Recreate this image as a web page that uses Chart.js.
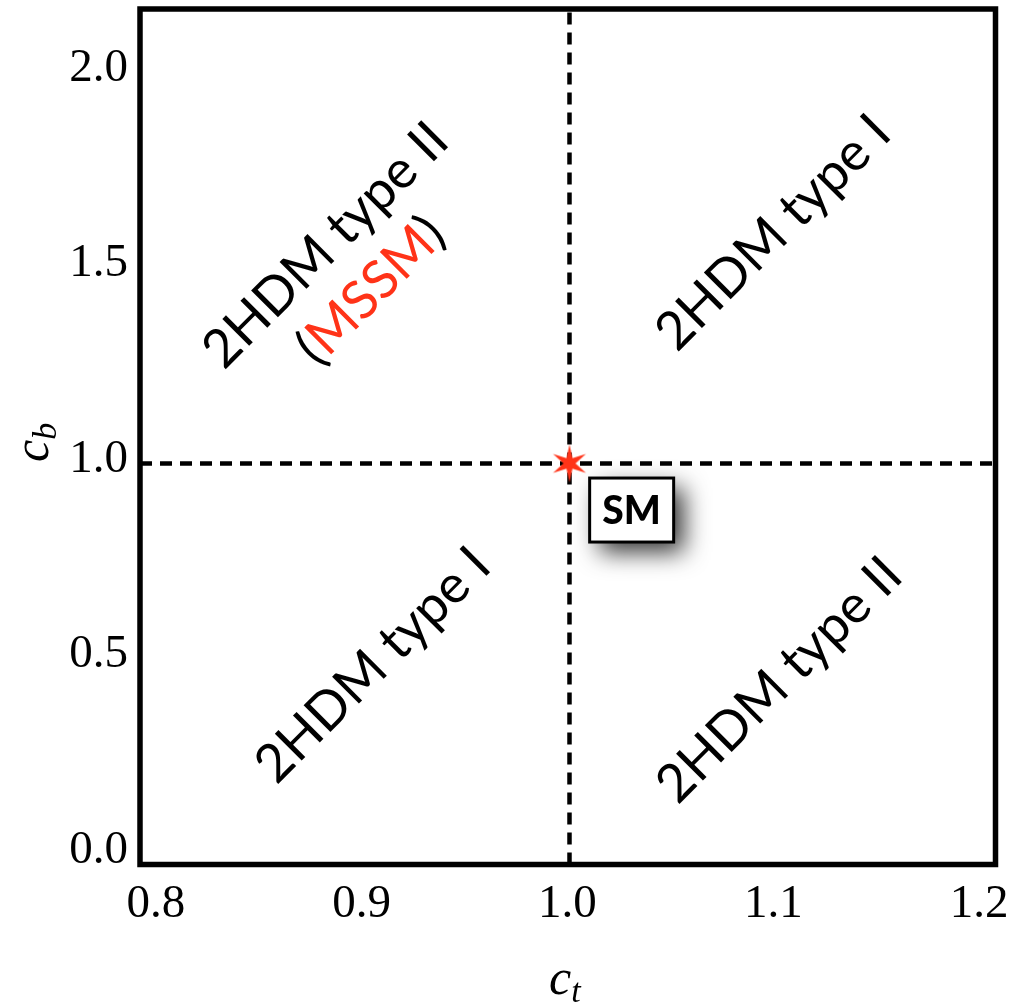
<!DOCTYPE html>
<html>
<head>
<meta charset="utf-8">
<script src="https://cdn.jsdelivr.net/npm/chart.js@4/dist/chart.umd.min.js"></script>
<style>
  body { margin: 0; background: #fff; }
  #wrap { width: 1012px; height: 1006px; }
</style>
</head>
<body>
<div id="wrap"><canvas id="couplingChart" width="1012" height="1006"></canvas></div>
<script>
// axis ranges and ticks
const xRange = [0.7913, 1.207];
const yRange = [-0.0256, 2.162];
const xTicks = [0.8, 0.9, 1.0, 1.1, 1.2];
const yTicks = [0.0, 0.5, 1.0, 1.5, 2.0];

// SM point (c_t, c_b)
const smPoint = [1.0, 1.0];
// dashed reference lines
const ctLine = 1.0;
const cbLine = 1.0;

// region labels (data coords of the text centre)
const regionText = [['2HDM type I'], ['2HDM type I'], ['2HDM type II'], ['2HDM type II', '(MSSM)']];
const regionAt = [[1.099, 1.59], [0.9045, 0.484], [1.102, 0.446], [0.8925, 1.50]];
const smBoxAt = [1.0302, 0.8808];

const RED = '#ff3318';
const SANS = 'Lato, "Open Sans", sans-serif';
const SERIF = '"Liberation Serif", "DejaVu Serif", serif';

// red six-pointed star used as point style
function makeStar() {
  const c = document.createElement('canvas');
  c.width = 42; c.height = 42;
  const g = c.getContext('2d');
  g.fillStyle = RED;
  g.beginPath();
  for (let i = 0; i < 12; i++) {
    const r = i % 2 === 0 ? 19 : 6;
    const a = -Math.PI / 2 + i * Math.PI / 6;
    const px = 21 + r * Math.cos(a), py = 21 + r * Math.sin(a);
    if (i === 0) g.moveTo(px, py); else g.lineTo(px, py);
  }
  g.closePath();
  g.fill();
  return c;
}

// no extra room for the outer tick labels
function noPadding(s) {
  s.paddingTop = 0; s.paddingBottom = 0; s.paddingLeft = 0; s.paddingRight = 0;
}

// frame, labels, SM box and axis titles
const decorations = {
  id: 'decorations',
  afterDatasetsDraw(chart) {
    const { ctx, scales: { x, y } } = chart;

    // region labels rotated 45 degrees
    ctx.save();
    ctx.font = '53px ' + SANS;
    ctx.textBaseline = 'middle';
    regionText.forEach((lines, i) => {
      const cx = x.getPixelForValue(regionAt[i][0]);
      const cy = y.getPixelForValue(regionAt[i][1]);
      ctx.save();
      ctx.translate(cx, cy);
      ctx.rotate(-Math.PI / 4);
      const lh = 64;
      lines.forEach((line, k) => {
        const ly = (k - (lines.length - 1) / 2) * lh;
        if (line === '(MSSM)') {
          const parts = [['(', '#000'], ['MSSM', RED], [')', '#000']];
          const total = parts.reduce((s, p) => s + ctx.measureText(p[0]).width, 0);
          let lx = -total / 2;
          ctx.textAlign = 'left';
          parts.forEach(p => {
            ctx.fillStyle = p[1];
            ctx.fillText(p[0], lx, ly);
            lx += ctx.measureText(p[0]).width;
          });
        } else {
          ctx.textAlign = 'center';
          ctx.fillStyle = '#000';
          ctx.fillText(line, 0, ly);
        }
      });
      ctx.restore();
    });
    ctx.restore();

    // SM box with drop shadow
    const bx = x.getPixelForValue(smBoxAt[0]);
    const by = y.getPixelForValue(smBoxAt[1]);
    const bw = 84, bh = 64;
    ctx.save();
    ctx.shadowColor = 'rgba(0,0,0,0.8)';
    ctx.shadowBlur = 24;
    ctx.shadowOffsetX = 10;
    ctx.shadowOffsetY = 10;
    ctx.fillStyle = '#fff';
    ctx.fillRect(bx - bw / 2, by - bh / 2, bw, bh);
    ctx.restore();
    ctx.save();
    ctx.lineWidth = 3;
    ctx.strokeStyle = '#000';
    ctx.strokeRect(bx - bw / 2, by - bh / 2, bw, bh);
    ctx.fillStyle = '#000';
    ctx.font = '900 39px ' + SANS;
    ctx.textAlign = 'center';
    ctx.textBaseline = 'middle';
    ctx.fillText('SM', bx, by + 1);
    ctx.restore();
  },
  afterDraw(chart) {
    const { ctx, chartArea: a } = chart;
    ctx.save();
    ctx.lineWidth = 5.5;
    ctx.strokeStyle = '#000';
    ctx.strokeRect(a.left, a.top, a.right - a.left, a.bottom - a.top);

    // axis titles c_t and c_b
    ctx.fillStyle = '#000';
    ctx.textBaseline = 'alphabetic';
    ctx.textAlign = 'left';
    ctx.font = 'italic 50px ' + SERIF;
    const cw = ctx.measureText('c').width;
    ctx.fillText('c', 549, 994);
    ctx.font = 'italic 34px ' + SERIF;
    ctx.fillText('t', 549 + cw, 1002);

    ctx.translate(48, 462);
    ctx.rotate(-Math.PI / 2);
    ctx.font = 'italic 50px ' + SERIF;
    ctx.fillText('c', 0, 0);
    ctx.font = 'italic 34px ' + SERIF;
    ctx.fillText('b', cw, 8);
    ctx.restore();
  }
};

const dashed = {
  showLine: true,
  borderColor: '#000',
  borderWidth: 4.5,
  borderDash: [12, 8],
  pointRadius: 0,
  fill: false,
  order: 2
};

new Chart(document.getElementById('couplingChart'), {
  type: 'scatter',
  data: {
    datasets: [
      Object.assign({ data: [{ x: ctLine, y: yRange[0] }, { x: ctLine, y: yRange[1] }] }, dashed),
      Object.assign({ data: [{ x: xRange[0], y: cbLine }, { x: xRange[1], y: cbLine }] }, dashed),
      {
        data: [{ x: smPoint[0], y: smPoint[1] }],
        pointStyle: makeStar(),
        pointRadius: 19,
        order: 0
      }
    ]
  },
  options: {
    responsive: false,
    animation: false,
    layout: { autoPadding: false, padding: { top: 9, right: 16.5, left: 0, bottom: 0 } },
    plugins: { legend: { display: false }, tooltip: { enabled: false } },
    scales: {
      x: {
        type: 'linear',
        min: xRange[0],
        max: xRange[1],
        afterBuildTicks: s => { s.ticks = xTicks.map(v => ({ value: v })); },
        afterFit: s => { s.height = 141.5; noPadding(s); },
        grid: { display: false, drawTicks: false },
        border: { display: false },
        ticks: {
          padding: 12,
          labelOffset: -2,
          color: '#000',
          font: { family: SERIF, size: 47 },
          callback: v => v.toFixed(1)
        }
      },
      y: {
        type: 'linear',
        min: yRange[0],
        max: yRange[1],
        afterBuildTicks: s => { s.ticks = yTicks.map(v => ({ value: v })); },
        afterFit: s => { s.width = 140; noPadding(s); },
        grid: { display: false, drawTicks: false },
        border: { display: false },
        ticks: {
          padding: 12,
          labelOffset: -4,
          color: '#000',
          font: { family: SERIF, size: 47 },
          callback: v => v.toFixed(1)
        }
      }
    }
  },
  plugins: [decorations]
});
</script>
</body>
</html>
